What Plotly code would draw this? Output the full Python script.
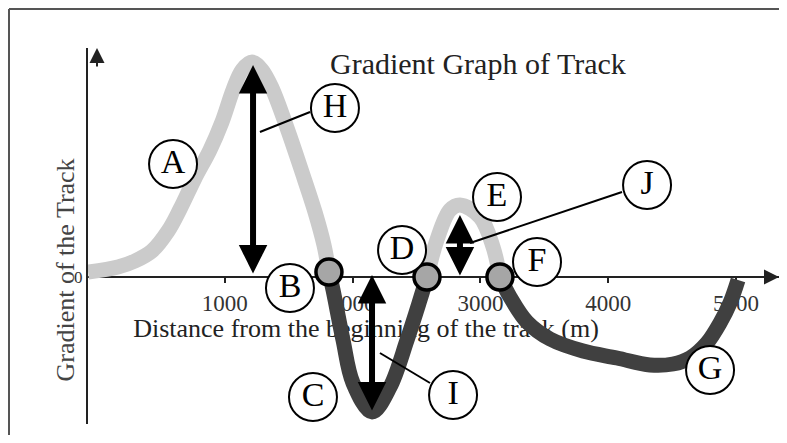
import plotly.graph_objects as go

# --- data ---
# distance along the track (m) and gradient (arbitrary units), one list per stretch
climb_dist = [-70, 164, 297, 430, 556, 650, 767, 884, 978, 1064, 1135, 1213,
              1291, 1369, 1487, 1604, 1706, 1776, 1815]
climb_grad = [0.5, 1.0, 1.6, 2.6, 4.6, 6.8, 9.9, 12.7, 15.5, 18.7, 20.7, 21.5,
              20.7, 18.9, 14.9, 10.5, 6.5, 3.2, 0.5]

dip_dist = [1815, 1847, 1925, 2003, 2152, 2293, 2426, 2527, 2582]
dip_grad = [0.5, -1.3, -6.3, -10.6, -13.5, -11.0, -6.3, -2.3, 0.0]

hump_dist = [2582, 2660, 2762, 2840, 2997, 3099, 3153]
hump_grad = [0.0, 3.7, 6.7, 7.2, 6.0, 3.0, 0.0]

sag_dist = [3153, 3232, 3365, 3545, 3803, 4069, 4327, 4507, 4640, 4773, 4875, 4953, 5016]
sag_grad = [0.0, -2.0, -4.5, -6.2, -7.4, -8.1, -8.8, -8.7, -8.1, -6.6, -4.6, -2.6, -0.3]

# points where the gradient changes sign (B, D, F)
cross_dist = [1815, 2582, 3153]
cross_grad = [0.5, 0.0, 0.0]

# circled letters
label_text = ["A", "B", "C", "D", "E", "F", "G", "H", "I", "J"]
label_dist = [595, 1510, 1690, 2387, 3130, 3443, 4797, 1862, 2786, 4304]
label_grad = [11.3, -1.1, -12.0, 2.7, 8.0, 1.5, -9.3, 16.9, -11.8, 9.2]

# double-headed height arrows (H, I, J)
arrow_dist = [1221, 2152, 2840]
arrow_top = [21.2, 0.2, 6.2]
arrow_bottom = [0.2, -13.5, 0.0]

# leader lines from arrows to their letters
leader_x0 = [1275, 2214, 2919]
leader_y0 = [14.5, -7.6, 3.4]
leader_x1 = [1667, 2606, 4108]
leader_y1 = [16.5, -10.6, 8.5]

tick_vals = [1000, 2000, 3000, 4000, 5000]
tick_text = ["1000", "2000", "3000", "4000", "5000"]

SERIF = "Liberation Serif, Times New Roman, serif"
LIGHT = "#cbcbcb"
DARK = "#404040"

# the page body adds an 8px margin, so the figure is kept inside the window
W, H = 771, 427
OFF = 8

fig = go.Figure()

# x-axis title sits under the curve in the reference, so draw it as a text trace first
fig.add_trace(go.Scatter(
    x=[2105], y=[-5.3], mode="text",
    text=["Distance from the beginning of the track (m)"],
    textfont=dict(family=SERIF, size=26, color="#222222"),
    cliponaxis=False, hoverinfo="skip", showlegend=False,
))

for xs, ys, col in [(climb_dist, climb_grad, LIGHT), (dip_dist, dip_grad, DARK),
                    (hump_dist, hump_grad, LIGHT), (sag_dist, sag_grad, DARK)]:
    fig.add_trace(go.Scatter(
        x=xs, y=ys, mode="lines",
        line=dict(color=col, width=15, shape="spline", smoothing=1.0),
        hoverinfo="skip", showlegend=False,
    ))

fig.add_trace(go.Scatter(
    x=cross_dist, y=cross_grad, mode="markers",
    marker=dict(size=26, color="#a6a6a6", line=dict(color="black", width=3.5)),
    cliponaxis=False, hoverinfo="skip", showlegend=False,
))

for i in range(len(leader_x0)):
    fig.add_trace(go.Scatter(
        x=[leader_x0[i], leader_x1[i]], y=[leader_y0[i], leader_y1[i]],
        mode="lines", line=dict(color="black", width=2),
        hoverinfo="skip", showlegend=False,
    ))

fig.add_trace(go.Scatter(
    x=label_dist, y=label_grad, mode="markers+text", text=label_text,
    textposition="middle center",
    textfont=dict(family=SERIF, size=34, color="black"),
    marker=dict(size=48, color="white", line=dict(color="black", width=2)),
    cliponaxis=False, hoverinfo="skip", showlegend=False,
))

# height arrows
for d, top, bot in zip(arrow_dist, arrow_top, arrow_bottom):
    fig.add_annotation(
        x=d, y=top, ax=d, ay=bot, xref="x", yref="y", axref="x", ayref="y",
        text="", showarrow=True, arrowhead=2, startarrowhead=2,
        arrowside="end+start", arrowwidth=6, arrowsize=0.95, startarrowsize=0.95,
        arrowcolor="black",
    )

# arrow tips on the axes
fig.add_annotation(x=1, y=0, xref="x domain", yref="y", ax=-20, ay=0,
                   text="", showarrow=True, arrowhead=2, arrowwidth=2,
                   arrowsize=1.5, arrowcolor="#222222")
fig.add_annotation(x=0, y=1, xref="x", yref="y domain", ax=0, ay=20,
                   text="", showarrow=True, arrowhead=2, arrowwidth=2,
                   arrowsize=1.5, arrowcolor="#222222")

fig.add_annotation(
    text="Gradient Graph of Track", xref="paper", yref="paper",
    x=(478 - OFF) / W, y=1 - (45 - OFF) / H, showarrow=False,
    font=dict(family=SERIF, size=30, color="#222222"),
)
fig.add_annotation(
    text="Gradient of the Track", xref="paper", yref="paper",
    x=(48 - OFF) / W, y=1 - (270 - OFF) / H, showarrow=False, textangle=-90,
    font=dict(family=SERIF, size=26, color="#444444"),
)

# frame: only its top and left edges fall inside the picture
fig.add_shape(type="line", xref="paper", yref="paper",
              x0=1 / W, x1=1.0, y0=1 - 1 / H, y1=1 - 1 / H,
              line=dict(color="#555555", width=2))
fig.add_shape(type="line", xref="paper", yref="paper",
              x0=1 / W, x1=1 / W, y0=0, y1=1 - 1 / H,
              line=dict(color="#555555", width=2))

fig.update_layout(
    width=W, height=H,
    margin=dict(l=0, r=0, t=0, b=0),
    plot_bgcolor="white", paper_bgcolor="white",
    showlegend=False,
    xaxis=dict(
        domain=[(88 - OFF) / W, 1.0], range=[-70.4, 5336.5],
        anchor="free", position=(H - (277 - OFF)) / H,
        showline=True, linecolor="#222222", linewidth=2,
        ticks="outside", ticklen=5, tickwidth=2, tickcolor="#222222",
        tickvals=tick_vals, ticktext=tick_text,
        tickfont=dict(family=SERIF, size=23, color="#333333"),
        showgrid=False, zeroline=False, layer="below traces",
    ),
    yaxis=dict(
        domain=[1 - (424 - OFF) / H, 1 - (48 - OFF) / H], range=[-14.7, 22.9],
        anchor="x", showline=True, linecolor="#222222", linewidth=2,
        ticks="", tickvals=[0], ticktext=["0"],
        tickfont=dict(family=SERIF, size=17, color="#333333"),
        showgrid=False, zeroline=False, layer="below traces",
    ),
)

fig.write_html("out.html")
